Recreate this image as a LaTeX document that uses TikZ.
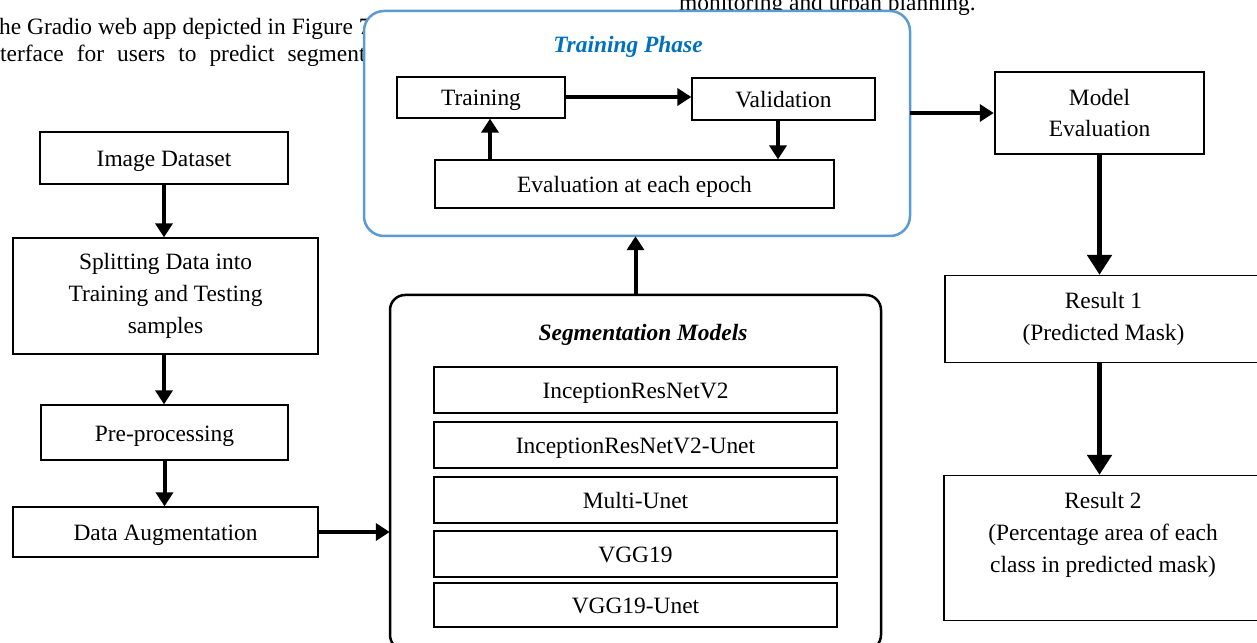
\documentclass[tikz,border=0pt]{standalone}
\usepackage{fontspec}
\setmainfont{Liberation Serif}
\usetikzlibrary{arrows.meta,calc}

\definecolor{phaseblue}{HTML}{5B9BD5}
\definecolor{titleblue}{HTML}{0070C0}

\begin{document}
\begin{tikzpicture}[x=1bp,y=-1bp,
  every node/.style={font=\fontsize{23.5}{32}\selectfont},
  box/.style={draw, line width=1.3bp, fill=white, inner sep=0pt, align=center},
  oneline/.style={text height=22bp, text depth=5bp},
  boldbox/.style={box, line width=2.5bp},
  panel/.style={draw, line width=2.5bp, fill=white, rounded corners=#1},
  paneltitle/.style={oneline, font=\fontsize{23.5}{28}\selectfont\bfseries\itshape},
  bodytext/.style={anchor=base west, inner sep=0pt, font=\fontsize{23.5}{27}\selectfont},
  arr/.style={line width=4bp, -{Triangle[length=14bp,width=17bp]}},
  bigarr/.style={line width=5.5bp, -{Triangle[length=20bp,width=24bp]}}
]
\useasboundingbox (0,0) rectangle (1257,643);
\clip (0,0) rectangle (1257,643);

% running text of the page behind the figure
\node[bodytext] (p1) at (-1,35) {he Gradio web app depicted in Figure 7 provides};
\node[bodytext] (p2) at (0,62) {terface\hspace{13bp}for\hspace{13bp}users\hspace{13bp}to\hspace{13bp}predict\hspace{13bp}segmentation};
\node[bodytext] (p3) at (679,11) {monitoring and urban planning.};

% training phase panel
\draw[panel=20bp, draw=phaseblue] (364,11) rectangle (910,236);
\node (tp) at (637,123.5) [minimum width=546bp, minimum height=225bp, inner sep=0pt] {};
\node[paneltitle, text=titleblue] (tptitle) at (628,44) {Training Phase};
\node[box, oneline, minimum width=168bp, minimum height=41bp] (tr) at (481,97.5) {Training};
\node[box, oneline, minimum width=183bp, minimum height=42bp] (va) at (783.5,99) {Validation};
\node[box, oneline, minimum width=399bp, minimum height=48bp] (ev) at (634.5,184) {Evaluation at each epoch};

% segmentation models panel
\draw[panel=15bp] (390,295) rectangle (881,650);
\node (seg) at (635.5,472.5) [minimum width=491bp, minimum height=355bp, inner sep=0pt] {};
\node[paneltitle] (segtitle) at (643,332) {Segmentation Models};
\node[box, oneline, minimum width=403bp, minimum height=46bp] (m1) at (635.5,390) {InceptionResNetV2};
\node[box, oneline, minimum width=403bp, minimum height=46bp] (m2) at (635.5,445) {InceptionResNetV2-Unet};
\node[box, oneline, minimum width=403bp, minimum height=46bp] (m3) at (635.5,500) {Multi-Unet};
\node[box, oneline, minimum width=403bp, minimum height=46bp] (m4) at (635.5,554) {VGG19};
\node[box, oneline, minimum width=403bp, minimum height=44bp] (m5) at (635.5,605) {VGG19-Unet};

% data preparation column
\node[box, oneline, minimum width=248bp, minimum height=52bp] (img) at (164,158) {Image Dataset};
\node[box, minimum width=305bp, minimum height=116bp] (split) at (165.5,296) {Splitting Data into\\Training and Testing\\samples};
\node[box, oneline, minimum width=247bp, minimum height=55bp] (pre) at (164.5,432.5) {Pre-processing};
\node[box, oneline, minimum width=305bp, minimum height=50bp] (aug) at (165.5,532) {Data Augmentation};

% evaluation and results column
\node[boldbox, minimum width=209bp, minimum height=82bp] (me) at (1099.5,113) {Model\\Evaluation};
\node[box, minimum width=317bp, minimum height=87bp] (r1) at (1103.5,319) {Result 1\\(Predicted Mask)};
\node[box, minimum width=318bp, minimum height=145bp] (r2) at (1103,548) {Result 2\\(Percentage area of each\\class in predicted mask)\\\mbox{}};

% connectors
\coordinate (upx) at (490,0);
\coordinate (dnx) at (778,0);
\draw[arr] (img.south) -- (img.south |- split.north);
\draw[arr] (img.south |- split.south) -- (img.south |- pre.north);
\draw[arr] (pre.south) -- (pre.south |- aug.north);
\draw[arr] (aug.east) -- (aug.east -| seg.west);
\draw[arr] (seg.north) -- (seg.north |- tp.south);
\draw[arr] (tr.east |- 0,97) -- (va.west |- 0,97);
\draw[arr] (upx |- ev.north) -- (upx |- tr.south);
\draw[arr] (dnx |- va.south) -- (dnx |- ev.north);
\draw[arr] (me.west -| tp.east) -- (me.west);
\draw[bigarr] (me.south) -- (me.south |- r1.north);
\draw[bigarr] (me.south |- r1.south) -- (me.south |- r2.north);
\end{tikzpicture}
\end{document}
